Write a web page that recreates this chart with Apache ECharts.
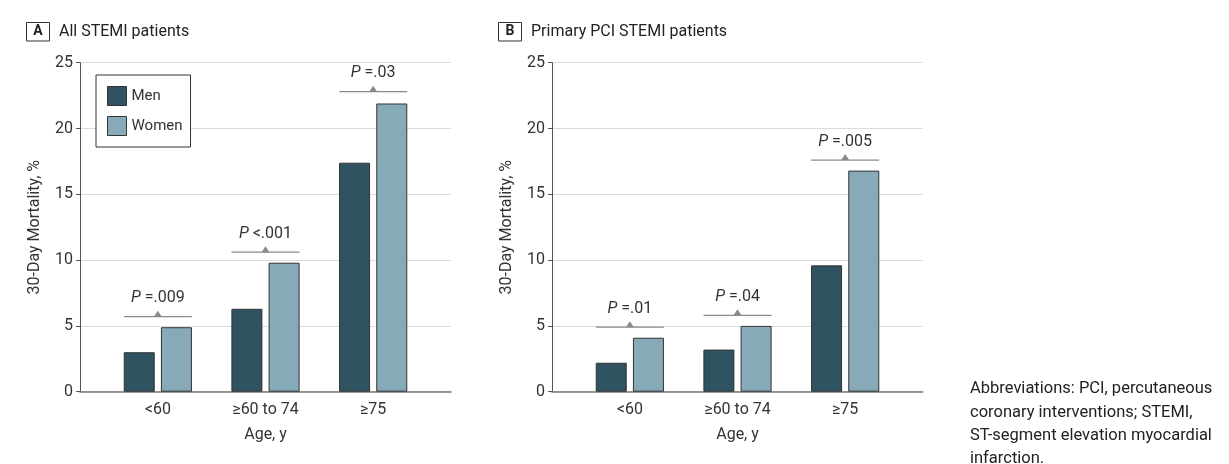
<!DOCTYPE html>
<html>
<head>
<meta charset="utf-8">
<script src="https://cdn.jsdelivr.net/npm/echarts@6/dist/echarts.min.js"></script>
<style>
html,body{margin:0;padding:0;background:#fff;}
#chart{width:1229px;height:464px;}
</style>
</head>
<body>
<div id="chart"></div>
<script>
// ---- data ----
const categories = ['<60', '≥60 to 74', '≥75'];
const seriesNames = ['Men', 'Women'];
const menA = [3.0, 6.3, 17.4];
const womenA = [4.9, 9.8, 21.9];
const menB = [2.2, 3.2, 9.6];
const womenB = [4.1, 5.0, 16.8];
const pTextA = ['=.009', '<.001', '=.03'];
const pLevelA = [5.7, 10.6, 22.8];
const pTextB = ['=.01', '=.04', '=.005'];
const pLevelB = [4.9, 5.8, 17.6];
const yMin = 0, yMax = 25, yStep = 5;
const panelTitles = ['All STEMI patients', 'Primary PCI STEMI patients'];
const panelLetters = ['A', 'B'];
const yName = '30-Day Mortality, %';
const xName = 'Age, y';
const note = 'Abbreviations: PCI, percutaneous\ncoronary interventions; STEMI,\nST-segment elevation myocardial\ninfarction.';

// ---- style ----
const FONT = 'Roboto, "Liberation Sans", sans-serif';
const TXT = '#333';
const MEN = '#2f5361';
const WOMEN = '#87aab9';
const BORDER = '#333';

const chart = echarts.init(document.getElementById('chart'));

const TOP = 62.7, BOTTOM = 464 - 391.7;
const grids = [
  {left: 80, right: 1229 - 451, top: TOP, bottom: BOTTOM},
  {left: 104, width: 323, top: TOP, bottom: BOTTOM},
  {left: 552, right: 1229 - 922.7, top: TOP, bottom: BOTTOM},
  {left: 576, width: 323, top: TOP, bottom: BOTTOM}
];

function axisPair(gridIndex) {
  return {
    x: {type: 'category', gridIndex, data: [''], boundaryGap: true,
        axisLine: {show: true, lineStyle: {color: '#777', width: 1.5}},
        axisTick: {show: false}, axisLabel: {show: false}, splitLine: {show: false}},
    y: {type: 'value', gridIndex, min: yMin, max: yMax, interval: yStep,
        name: yName, nameLocation: 'middle', nameGap: 37,
        nameTextStyle: {fontFamily: FONT, fontSize: 16, color: TXT},
        axisLine: {show: true, lineStyle: {color: '#555', width: 1}},
        axisTick: {show: true, length: 4, lineStyle: {color: '#555'}},
        axisLabel: {fontFamily: FONT, fontSize: 16, color: TXT, margin: 7},
        splitLine: {show: true, lineStyle: {color: '#dcdcdc', width: 1}}}
  };
}
function barAxes(gridIndex) {
  return {
    x: {type: 'category', gridIndex, data: categories,
        name: xName, nameLocation: 'middle', nameGap: 35,
        nameTextStyle: {fontFamily: FONT, fontSize: 16, color: TXT},
        axisLine: {show: false}, axisTick: {show: false},
        axisLabel: {fontFamily: FONT, fontSize: 16, color: TXT, margin: 10}},
    y: {type: 'value', gridIndex, min: yMin, max: yMax, interval: yStep, show: false}
  };
}
const a0 = axisPair(0), a1 = barAxes(1), a2 = axisPair(2), a3 = barAxes(3);

function bar(name, data, color, xi) {
  return {
    type: 'bar', name, data, xAxisIndex: xi, yAxisIndex: xi,
    barWidth: 31, barGap: '20%',
    itemStyle: {color, borderColor: BORDER, borderWidth: 1},
    emphasis: {disabled: true}, z: 3
  };
}

function bracket(levels, texts, xi) {
  return {
    type: 'custom', xAxisIndex: xi, yAxisIndex: xi, z: 4,
    data: levels.map((v, i) => [i, v]),
    renderItem: function (params, api) {
      const c = api.coord([api.value(0), api.value(1)]);
      const half = 34;
      const t = texts[params.dataIndex];
      return {type: 'group', children: [
        {type: 'line', shape: {x1: c[0] - half, y1: c[1], x2: c[0] + half, y2: c[1]},
         style: {stroke: '#8a8a8a', lineWidth: 1.2}},
        {type: 'polygon', shape: {points: [[c[0] - 4, c[1]], [c[0] + 4, c[1]], [c[0], c[1] - 6]]},
         style: {fill: '#8a8a8a'}},
        {type: 'text', x: c[0], y: c[1] - 18.5,
         style: {text: '{i|P} ' + t, align: 'center', verticalAlign: 'middle',
                 fontFamily: FONT, fontSize: 16, fill: TXT,
                 rich: {i: {fontStyle: 'italic', fontFamily: FONT, fontSize: 16, color: TXT}}}}
      ]};
    }
  };
}

function panelHeader(x, letter, title) {
  return [
    {type: 'rect', shape: {x: x, y: 22.5, width: 23, height: 18.5},
     style: {fill: '#fff', stroke: '#333', lineWidth: 1}},
    {type: 'text', x: x + 11.5, y: 31.8,
     style: {text: letter, align: 'center', verticalAlign: 'middle',
             fontFamily: FONT, fontSize: 14, fontWeight: 'bold', fill: '#222'}},
    {type: 'text', x: x + 32.5, y: 31.8,
     style: {text: title, align: 'left', verticalAlign: 'middle',
             fontFamily: FONT, fontSize: 16, fill: '#222'}}
  ];
}

const option = {
  animation: false,
  backgroundColor: '#fff',
  grid: grids,
  xAxis: [a0.x, a1.x, a2.x, a3.x],
  yAxis: [a0.y, a1.y, a2.y, a3.y],
  legend: {
    data: seriesNames, orient: 'vertical', left: 96, top: 75,
    itemWidth: 19, itemHeight: 19, itemGap: 10, icon: 'rect',
    padding: [11, 8, 11, 11],
    borderColor: '#333', borderWidth: 1, backgroundColor: '#fff',
    itemStyle: {borderColor: BORDER, borderWidth: 1},
    textStyle: {fontFamily: FONT, fontSize: 15, color: TXT},
    selectedMode: false
  },
  series: [
    bar(seriesNames[0], menA, MEN, 1),
    bar(seriesNames[1], womenA, WOMEN, 1),
    bar(seriesNames[0], menB, MEN, 3),
    bar(seriesNames[1], womenB, WOMEN, 3),
    bracket(pLevelA, pTextA, 1),
    bracket(pLevelB, pTextB, 3)
  ],
  graphic: [
    ...panelHeader(26.5, panelLetters[0], panelTitles[0]),
    ...panelHeader(498.5, panelLetters[1], panelTitles[1]),
    {type: 'text', x: 970, y: 377.5,
     style: {text: note, align: 'left', verticalAlign: 'top', lineHeight: 23.3,
             fontFamily: FONT, fontSize: 16.5, fill: '#222'}}
  ]
};
chart.setOption(option);
</script>
</body>
</html>
